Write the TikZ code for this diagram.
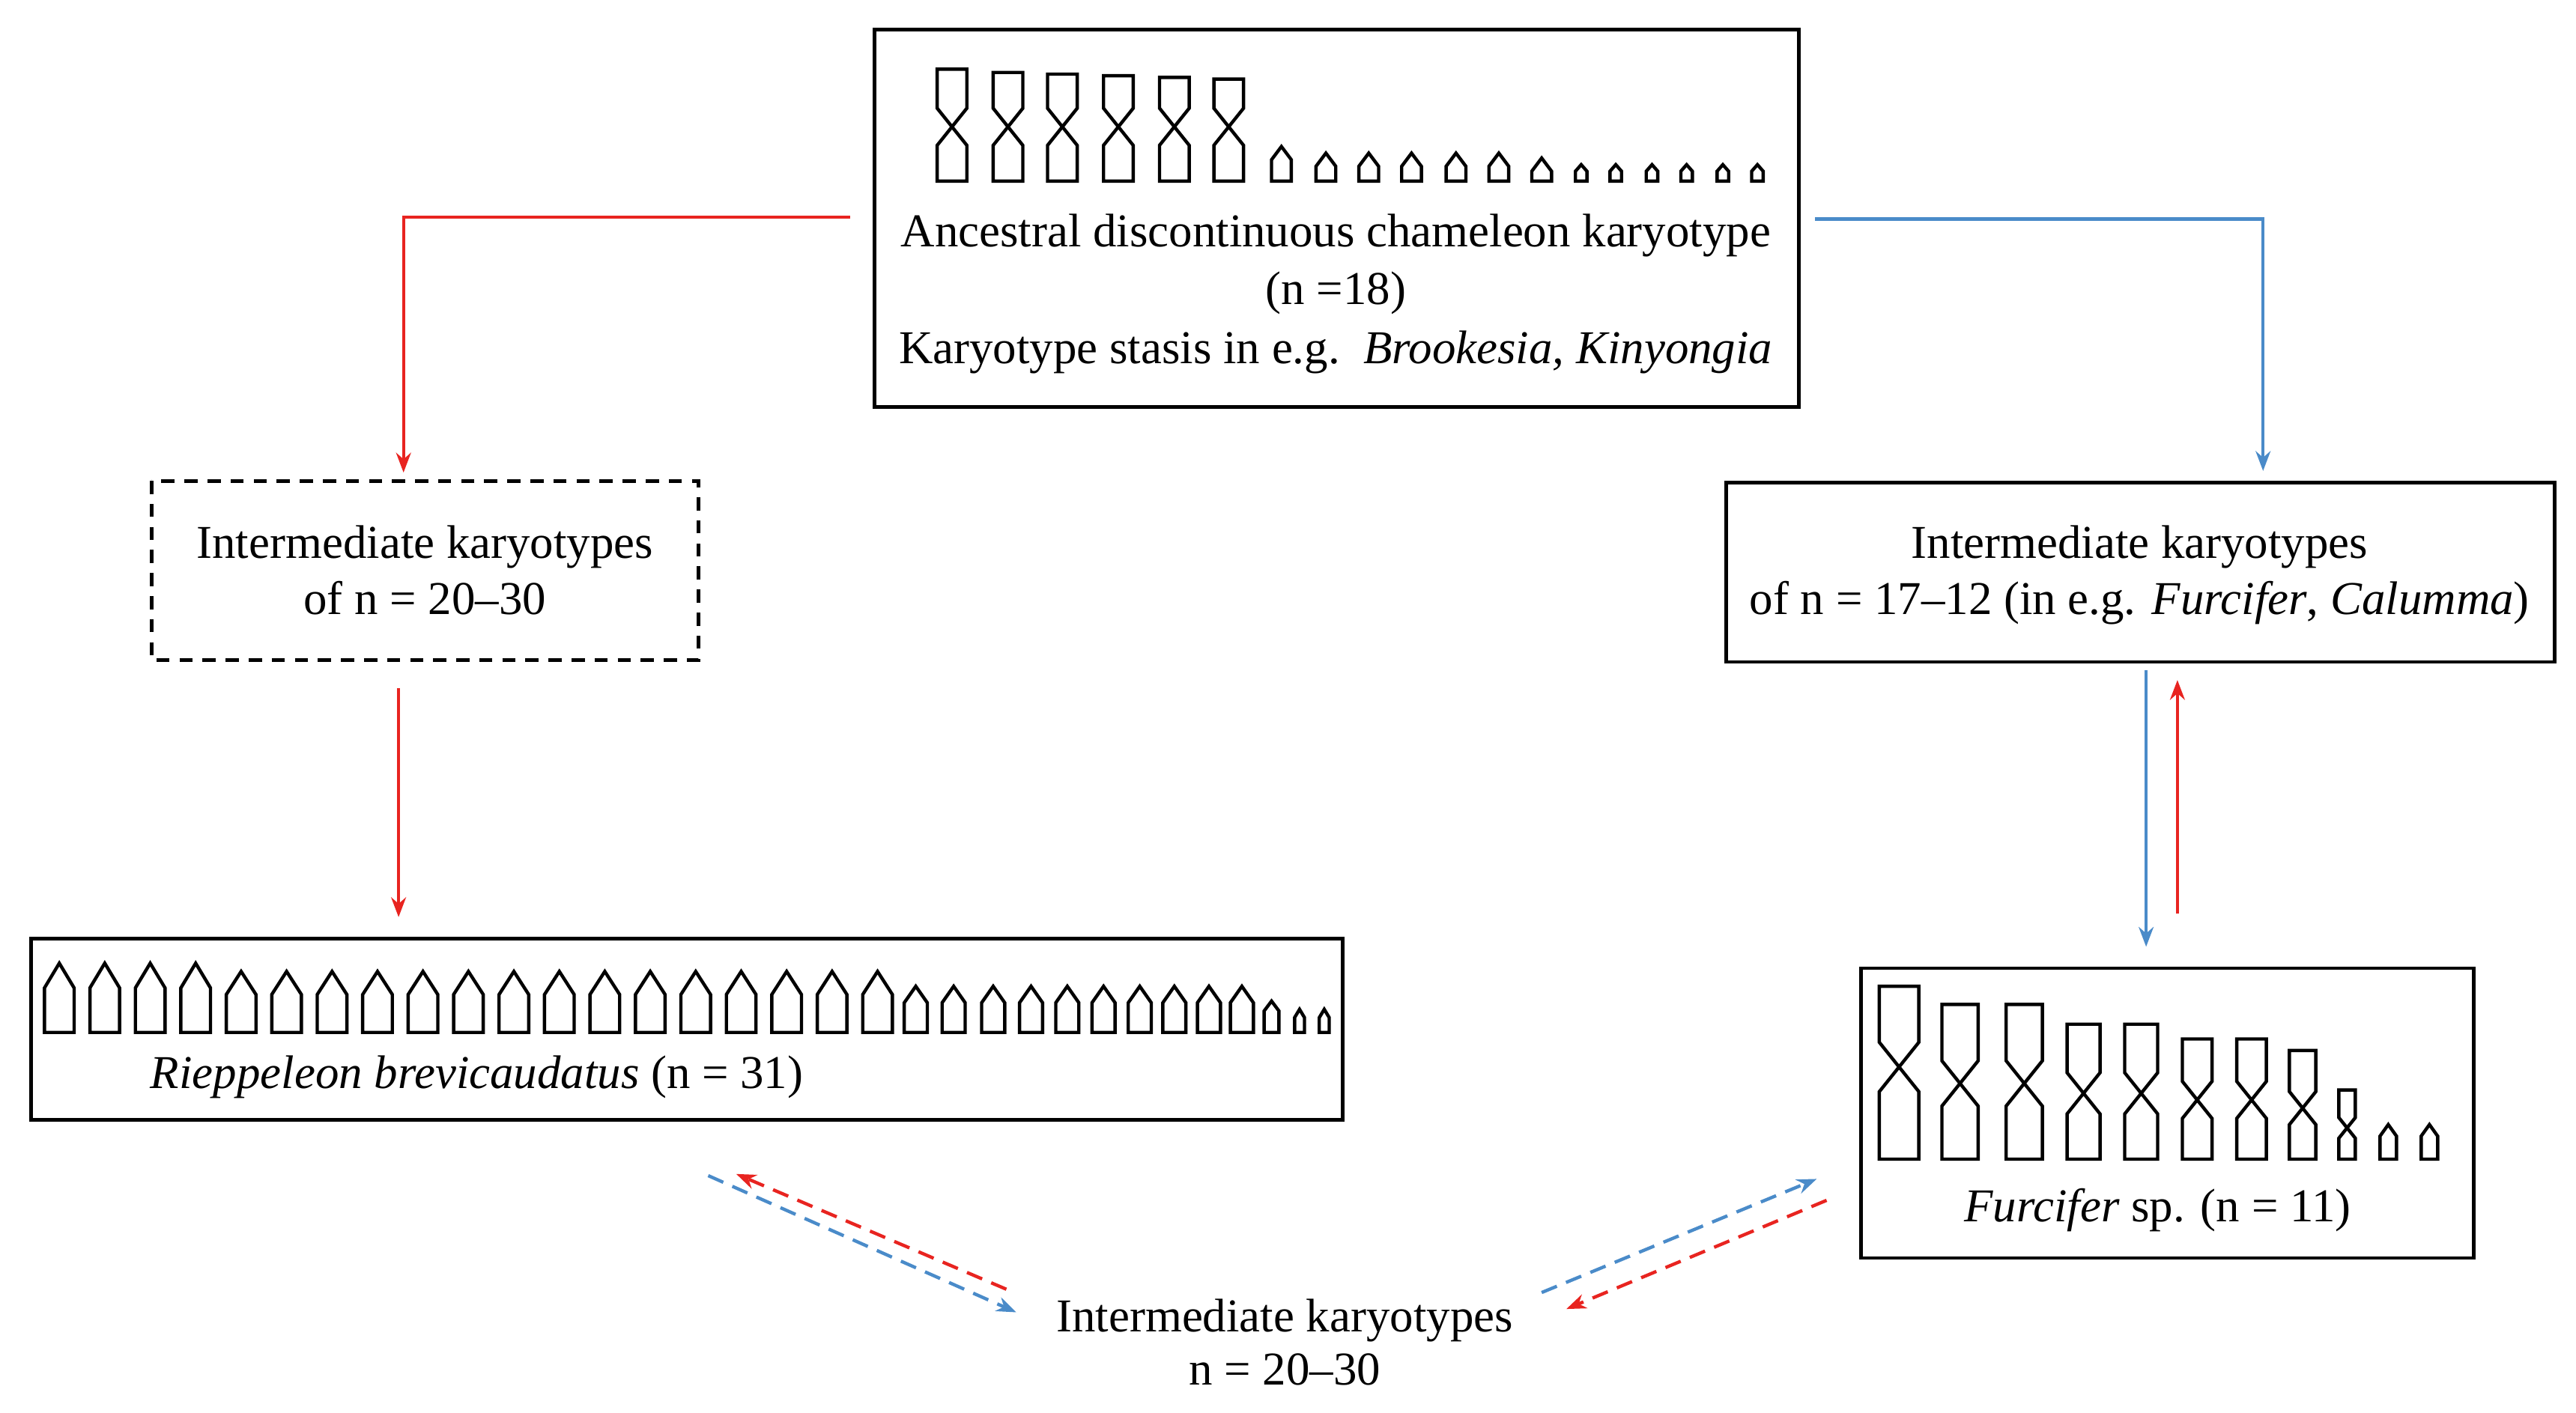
\documentclass[tikz,border=0pt]{standalone}
\usepackage{fontspec}
\setmainfont{Liberation Serif}
\usetikzlibrary{arrows.meta}
\newcommand{\metaC}[5]{% cx, top, bottom, halfwidth, centromere
 \draw[chrom] (#1-#4,#2)--(#1+#4,#2)--(#1+#4,#5-1.25*#4)--(#1-#4,#5+1.25*#4)--(#1-#4,#3)--(#1+#4,#3)--(#1+#4,#5+1.25*#4)--(#1-#4,#5-1.25*#4)--cycle;}
\newcommand{\acroC}[5]{% cx, peak, shoulder, bottom, halfwidth
 \draw[chrom] (#1-#5,#4)--(#1-#5,#3)--(#1,#2)--(#1+#5,#3)--(#1+#5,#4)--cycle;}
\definecolor{cred}{HTML}{E82420}
\definecolor{cblue}{HTML}{4A8BC9}
\begin{document}
\begin{tikzpicture}[x=0.5pt,y=-0.5pt,
 chrom/.style={line width=1pt,line join=miter},
 box/.style={draw,line width=1.1pt},
 txt/.style={font=\fontsize{14.3}{17}\selectfont,inner sep=0pt,anchor=base},
 ar/.style={line width=1pt,-{Stealth[length=6pt,width=4.5pt]}},
 red/.style={ar,cred}, blue/.style={ar,cblue},
 dsh/.style={dash pattern=on 5pt off 3pt}]
\useasboundingbox (0,0) rectangle (1564,858);
% boxes
\draw[box] (531,18) rectangle (1092,247);
\draw[box,dash pattern=on 4pt off 3pt] (92,292) rectangle (424,401);
\draw[box] (1048,293) rectangle (1551,402);
\draw[box] (19,570) rectangle (815,680);
\draw[box] (1130,588) rectangle (1502,764);
% top chromosomes
\foreach \x/\t in {578/42,612/44,645/45,679/46,713/47,746/48} {\metaC{\x}{\t}{110}{9}{77}}
\foreach \x/\p in {778/89,805/93,831/93,857/93,884/93,910/93,936/96} {\acroC{\x}{\p}{\p+8}{110}{6}}
\foreach \x in {960,981,1003,1024,1046,1067} {\acroC{\x}{100}{104}{110}{3.5}}
% Rieppeleon
\foreach \i in {0,...,3} {\acroC{36+27.6*\i}{585}{600}{627}{9}}
\foreach \i in {4,...,18} {\acroC{36+27.6*\i}{590}{604}{627}{9}}
\foreach \x in {556,579,603,626,648,670,692,713,734,754} {\acroC{\x}{599}{609}{627}{7}}
\acroC{772}{608}{614}{627}{4.5}
\acroC{789}{613}{618}{627}{3}
\acroC{804}{613}{618}{627}{3}
% Furcifer
\foreach \x/\t/\w/\c in {1153/599/12/648,1190/610/11/658,1229/610/11/658,1265/622/10/664,1300/622/10/664,1334/631/9/668,1367/631/9/668,1398/638/8/673,1425/662/5/685}{\metaC{\x}{\t}{704}{\w}{\c}}
\acroC{1450}{683}{690}{704}{5}
\acroC{1475}{683}{690}{704}{5}
% texts
\node[txt] (a1) at (811,150) {Ancestral discontinuous chameleon karyotype};
\node[txt] (a2) at (811,185) {(n =18)};
\node[txt] (a3) at (811,221) {Karyotype stasis in e.g.\ \ \textit{Brookesia, Kinyongia}};
\node[txt] (l1) at (258,339) {Intermediate karyotypes};
\node[txt] (l2) at (258,373) {of n = 20–30};
\node[txt] (r1) at (1299,339) {Intermediate karyotypes};
\node[txt] (r2) at (1299,373) {of n = 17–12 (in e.g. \textit{Furcifer}, \textit{Calumma})};
\node[txt,anchor=base west] (rp) at (91,661) {\textit{Rieppeleon brevicaudatus} (n = 31)};
\node[txt] (fu) at (1310,742) {\textit{Furcifer} sp. (n = 11)};
\node[txt] (b1) at (780,809) {Intermediate karyotypes};
\node[txt] (b2) at (780,841) {n = 20–30};
% connector coordinates
\coordinate (t1) at (516,132); \coordinate (t2) at (245,132); \coordinate (t3) at (245,287);
\coordinate (u1) at (1102,133); \coordinate (u2) at (1374,133); \coordinate (u3) at (1374,286);
\coordinate (v1) at (242,418); \coordinate (v2) at (242,557);
\coordinate (w1) at (1303,407); \coordinate (w2) at (1303,575);
\coordinate (x1) at (1322,555); \coordinate (x2) at (1322,413);
\coordinate (d1) at (430,714); \coordinate (d2) at (617,797);
\coordinate (e1) at (611,783); \coordinate (e2) at (447,713);
\coordinate (f1) at (936,785); \coordinate (f2) at (1103,716);
\coordinate (g1) at (1109,729); \coordinate (g2) at (951,795);
\draw[red] (t1)--(t2)--(t3);
\draw[blue] (u1)--(u2)--(u3);
\draw[red] (v1)--(v2);
\draw[blue] (w1)--(w2);
\draw[red] (x1)--(x2);
\draw[blue,dsh] (d1)--(d2);
\draw[red,dsh] (e1)--(e2);
\draw[blue,dsh] (f1)--(f2);
\draw[red,dsh] (g1)--(g2);
\end{tikzpicture}
\end{document}
